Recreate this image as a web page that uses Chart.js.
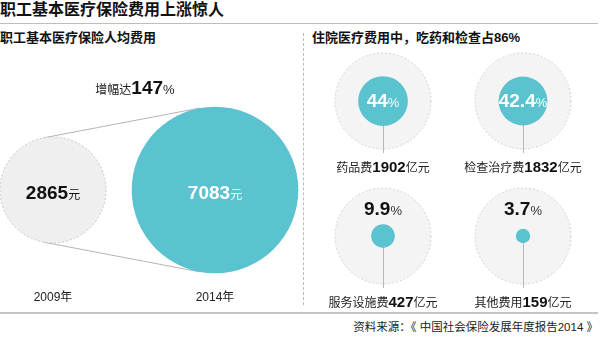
<!DOCTYPE html>
<html>
<head>
<meta charset="utf-8">
<script src="https://cdn.jsdelivr.net/npm/chart.js@4.4.1/dist/chart.umd.min.js"></script>
<style>
body { margin: 0; width: 601px; height: 338px; background: #fff; position: relative; overflow: hidden;
       font-family: "Liberation Sans", "Noto Sans CJK SC", sans-serif; color: #111; }
.abs { position: absolute; white-space: nowrap; }
#title { left: 0; top: 0; font-size: 16px; font-weight: bold; line-height: 20px; }
#topLine { left: 0; top: 23px; width: 598px; height: 1px; background: #bdbdbd; }
.sub { top: 30px; font-size: 13px; font-weight: bold; line-height: 16px; }
#divider { left: 303px; top: 33px; height: 272px; border-left: 1px dashed #bbb; }
#bottomLine { left: 0; top: 312px; width: 598px; height: 2px; background: #c4c4c4; }
#source { right: 3px; top: 319px; font-size: 11.5px; line-height: 16px; color: #222; }
canvas { position: absolute; }
</style>
</head>
<body>
<div class="abs" id="title">职工基本医疗保险费用上涨惊人</div>
<div class="abs" id="topLine"></div>
<div class="abs sub" style="left:0">职工基本医疗保险人均费用</div>
<div class="abs sub" style="left:312px">住院医疗费用中，吃药和检查占86%</div>
<div class="abs" id="divider"></div>
<div class="abs" id="bottomLine"></div>
<div class="abs" id="source">资料来源：《 中国社会保险发展年度报告2014 》</div>
<canvas id="left" width="300" height="290" style="left:0;top:45px"></canvas>
<canvas id="right" width="298" height="265" style="left:303px;top:45px"></canvas>
<script>
// per capita cost
const years = ['2009年', '2014年'];
const perCapita = [2865, 7083];

// inpatient cost breakdown
const itemNames = ['药品费', '检查治疗费', '服务设施费', '其他费用'];
const itemShares = [44, 42.4, 9.9, 3.7];
const itemAmounts = [1902, 1832, 427, 159];

const FONT = '"Liberation Sans", "Noto Sans CJK SC", sans-serif';
const TEAL = '#5bc2cf';

function drawParts(ctx, parts, cx, baseline) {
    let w = 0;
    parts.forEach(p => { ctx.font = p.font; p.w = ctx.measureText(p.t).width; w += p.w; });
    let x = cx - w / 2;
    ctx.textAlign = 'left';
    ctx.textBaseline = 'alphabetic';
    parts.forEach(p => {
        ctx.font = p.font;
        ctx.fillStyle = p.color;
        ctx.fillText(p.t, x, baseline);
        x += p.w;
    });
}

const hiddenAxis = (min, max, reverse) => ({ type: 'linear', display: false, min: min, max: max, reverse: !!reverse });

// left: two bubbles, area ~ value
const leftDeco = {
    id: 'leftDeco',
    beforeDatasetsDraw(chart) {
        const ctx = chart.ctx;
        const [a, b] = chart.getDatasetMeta(0).data;
        const r1 = a.options.radius, r2 = b.options.radius;
        const s = (r2 - r1) / (b.x - a.x);
        const c = Math.sqrt(1 - s * s);
        ctx.save();
        ctx.strokeStyle = '#b5b5b5';
        ctx.lineWidth = 1;
        [-1, 1].forEach(dir => {
            ctx.beginPath();
            ctx.moveTo(a.x - r1 * s, a.y + dir * r1 * c);
            ctx.lineTo(b.x - r2 * s, b.y + dir * r2 * c);
            ctx.stroke();
        });
        ctx.restore();
    },
    afterDatasetsDraw(chart) {
        const ctx = chart.ctx;
        const pts = chart.getDatasetMeta(0).data;
        ctx.save();
        // dashed outline on the 2009 bubble
        ctx.setLineDash([2, 2]);
        ctx.strokeStyle = '#c8c8c8';
        ctx.beginPath();
        ctx.arc(pts[0].x, pts[0].y, pts[0].options.radius, 0, Math.PI * 2);
        ctx.stroke();
        ctx.setLineDash([]);
        pts.forEach((p, i) => {
            const col = i === 0 ? '#111' : '#fff';
            drawParts(ctx, [
                { t: String(perCapita[i]), font: 'bold 19px ' + FONT, color: col },
                { t: '元', font: '12px ' + FONT, color: col }
            ], p.x, p.y + 9);
            drawParts(ctx, [{ t: years[i], font: '12px ' + FONT, color: '#222' }], p.x, p.y + 111);
        });
        const growth = Math.round((perCapita[1] / perCapita[0] - 1) * 100);
        drawParts(ctx, [
            { t: '增幅达', font: '12px ' + FONT, color: '#222' },
            { t: String(growth), font: 'bold 19px ' + FONT, color: '#111' },
            { t: '%', font: '13px ' + FONT, color: '#222' }
        ], (pts[0].x + pts[1].x) / 2 + 1, pts[0].y - 96);
        ctx.restore();
    }
};

new Chart(document.getElementById('left'), {
    type: 'bubble',
    data: {
        datasets: [{
            data: perCapita.map((v, i) => ({ x: i, y: 0, r: Math.sqrt(v) * 0.99 })),
            backgroundColor: ['#efefef', TEAL],
            borderWidth: 0,
            clip: false
        }]
    },
    options: {
        responsive: false,
        animation: false,
        events: [],
        layout: { autoPadding: false, padding: 0 },
        plugins: { legend: { display: false }, tooltip: { enabled: false } },
        scales: { x: hiddenAxis(-0.3272, 1.5247), y: hiddenAxis(-1, 1) }
    },
    plugins: [leftDeco]
});

// right: 2x2 grid of share bubbles
const OUTER_R = 48;
const rightDeco = {
    id: 'rightDeco',
    beforeDatasetsDraw(chart) {
        const ctx = chart.ctx;
        ctx.save();
        chart.getDatasetMeta(0).data.forEach(p => {
            ctx.beginPath();
            ctx.arc(p.x, p.y, OUTER_R, 0, Math.PI * 2);
            ctx.fillStyle = '#f4f4f4';
            ctx.fill();
            ctx.setLineDash([2, 2]);
            ctx.strokeStyle = '#d2d2d2';
            ctx.lineWidth = 1;
            ctx.stroke();
            ctx.setLineDash([]);
            ctx.strokeStyle = '#b8b8b8';
            ctx.beginPath();
            ctx.moveTo(Math.round(p.x) + 0.5, p.y);
            ctx.lineTo(Math.round(p.x) + 0.5, p.y + 52);
            ctx.stroke();
        });
        ctx.restore();
    },
    afterDatasetsDraw(chart) {
        const ctx = chart.ctx;
        ctx.save();
        chart.getDatasetMeta(0).data.forEach((p, i) => {
            const inside = p.options.radius >= 20;
            const col = inside ? '#fff' : '#111';
            drawParts(ctx, [
                { t: String(itemShares[i]), font: 'bold 19px ' + FONT, color: col },
                { t: '%', font: '13px ' + FONT, color: inside ? '#fff' : '#333' }
            ], p.x, inside ? p.y + 6 : p.y - 21);
            drawParts(ctx, [
                { t: itemNames[i], font: '12px ' + FONT, color: '#222' },
                { t: String(itemAmounts[i]), font: 'bold 15px ' + FONT, color: '#111' },
                { t: '亿元', font: '12px ' + FONT, color: '#222' }
            ], p.x, p.y + 71);
        });
        ctx.restore();
    }
};

new Chart(document.getElementById('right'), {
    type: 'bubble',
    data: {
        datasets: [{
            data: itemShares.map((v, i) => ({ x: i % 2, y: Math.floor(i / 2), r: Math.sqrt(v) * 3.75 })),
            backgroundColor: TEAL,
            borderWidth: 0,
            clip: false
        }]
    },
    options: {
        responsive: false,
        animation: false,
        events: [],
        layout: { autoPadding: false, padding: 0 },
        plugins: { legend: { display: false }, tooltip: { enabled: false } },
        scales: { x: hiddenAxis(-0.5714, 1.5571), y: hiddenAxis(-0.4148, 1.548, true) }
    },
    plugins: [rightDeco]
});
</script>
</body>
</html>
